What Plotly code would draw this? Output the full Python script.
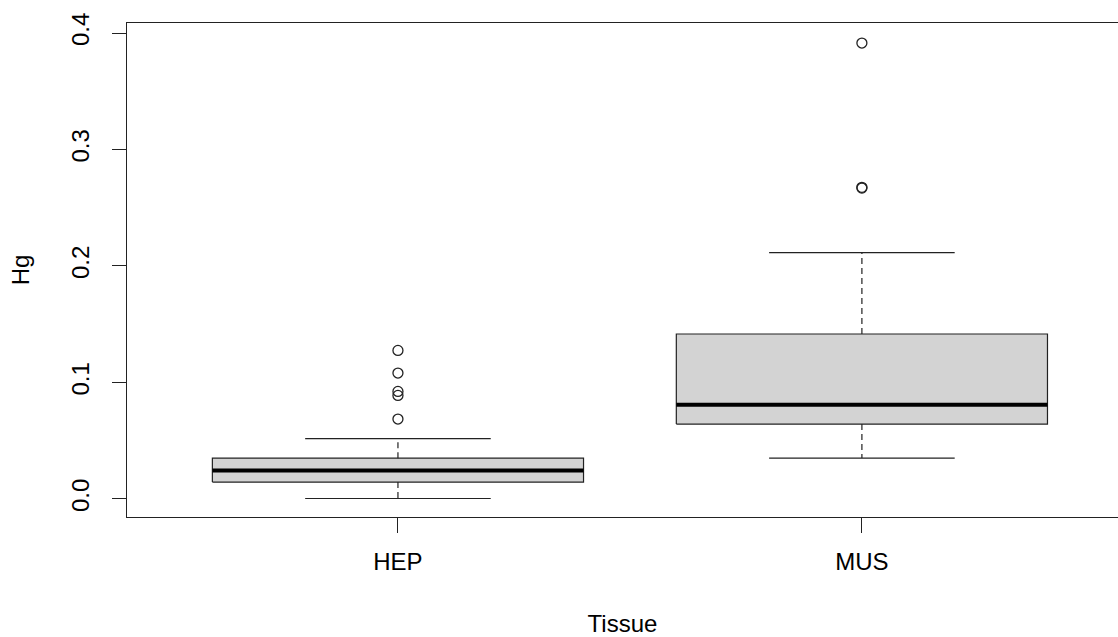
import plotly.graph_objects as go

# ---- data ----
categories = ["HEP", "MUS"]
q1 = [0.0145, 0.0643]
median = [0.0245, 0.0809]
q3 = [0.0350, 0.1416]
lower_whisker = [0.0004, 0.0351]
upper_whisker = [0.0517, 0.2114]
outliers_hep = [0.1275, 0.1081, 0.0923, 0.0889, 0.0686]
outliers_mus = [0.3914, 0.2669, 0.2675]
outliers = [outliers_hep, outliers_mus]
y_tick_values = [0.0, 0.1, 0.2, 0.3, 0.4]
y_tick_labels = ["0.0", "0.1", "0.2", "0.3", "0.4"]

FONT = "Liberation Sans, Arial, sans-serif"
BOX_HALF = 0.4
CAP_HALF = 0.2

fig = go.Figure()

for i, cat in enumerate(categories):
    xc = i + 1
    # box
    fig.add_trace(go.Scatter(
        x=[xc - BOX_HALF, xc + BOX_HALF, xc + BOX_HALF, xc - BOX_HALF, xc - BOX_HALF],
        y=[q1[i], q1[i], q3[i], q3[i], q1[i]],
        mode="lines", fill="toself", fillcolor="#D3D3D3",
        line=dict(color="#222222", width=1.2), hoverinfo="skip", name=cat))
    # whiskers (dashed)
    fig.add_trace(go.Scatter(
        x=[xc, xc, None, xc, xc],
        y=[q3[i], upper_whisker[i], None, q1[i], lower_whisker[i]],
        mode="lines", line=dict(color="#222222", width=1.2, dash="6px,4px"),
        hoverinfo="skip"))
    # caps (solid)
    fig.add_trace(go.Scatter(
        x=[xc - CAP_HALF, xc + CAP_HALF, None, xc - CAP_HALF, xc + CAP_HALF],
        y=[upper_whisker[i], upper_whisker[i], None, lower_whisker[i], lower_whisker[i]],
        mode="lines", line=dict(color="#222222", width=1.2), hoverinfo="skip"))
    # median (thick)
    fig.add_trace(go.Scatter(
        x=[xc - BOX_HALF, xc + BOX_HALF], y=[median[i], median[i]],
        mode="lines", line=dict(color="black", width=4), hoverinfo="skip"))
    # outliers
    fig.add_trace(go.Scatter(
        x=[xc] * len(outliers[i]), y=outliers[i], mode="markers",
        marker=dict(symbol="circle-open", size=10, color="#222222",
                    line=dict(width=1.3, color="#222222")),
        hoverinfo="y"))

fig.update_layout(
    width=1118, height=637,
    margin=dict(l=127, r=0, t=23, b=120),
    paper_bgcolor="white", plot_bgcolor="white",
    showlegend=False,
    font=dict(family=FONT, size=24, color="black"),
    xaxis=dict(
        range=[0.416, 2.552], tickvals=[1, 2], ticktext=categories,
        automargin=False,
        showgrid=False, zeroline=False,
        showline=True, mirror=True, linecolor="#222222", linewidth=1.2,
        ticks="outside", ticklen=15, tickcolor="#222222", tickwidth=1.2,
        ticklabelstandoff=8,
        title=dict(text="Tissue", standoff=43, font=dict(size=24)),
    ),
    yaxis=dict(
        range=[-0.0155, 0.4086], tickvals=y_tick_values, ticktext=y_tick_labels,
        automargin=False,
        tickangle=-90, showgrid=False, zeroline=False,
        showline=True, mirror=False, linecolor="#222222", linewidth=1.2,
        ticks="outside", ticklen=14, tickcolor="#222222", tickwidth=1.2,
        ticklabelstandoff=13,
        title=dict(text="Hg", standoff=30, font=dict(size=24)),
    ),
)

fig.write_html(
    "out.html",
    config={"displayModeBar": False},
    post_script="document.body.style.margin='0';document.body.style.overflow='hidden';",
)
